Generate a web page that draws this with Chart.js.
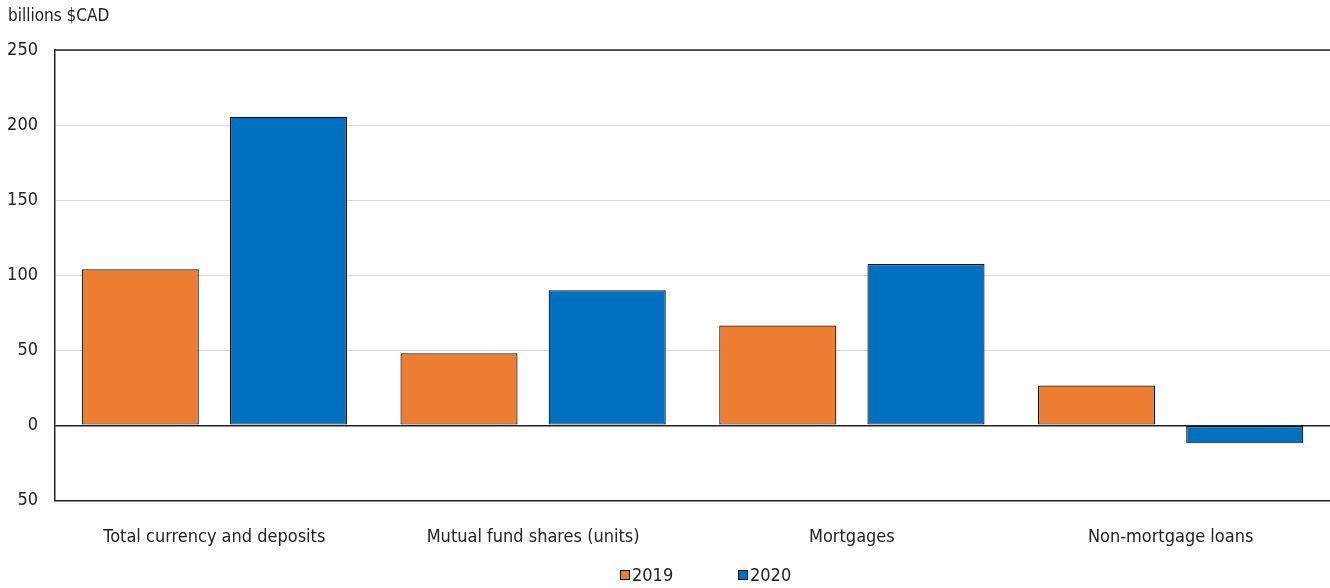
<!DOCTYPE html>
<html>
<head>
<meta charset="utf-8">
<script src="https://cdn.jsdelivr.net/npm/chart.js@4/dist/chart.umd.min.js"></script>
<style>
  html, body { margin: 0; padding: 0; background: #fff; }
  #wrap { width: 1330px; height: 588px; }
</style>
</head>
<body>
<div id="wrap"><canvas id="chart"></canvas></div>
<script>
const categories = ['Total currency and deposits', 'Mutual fund shares (units)', 'Mortgages', 'Non-mortgage loans'];
const values2019 = [104, 48, 66.5, 26.5];
const values2020 = [205.5, 90, 107.5, -12];
const yTickLabels = { '250': '250', '200': '200', '150': '150', '100': '100', '50': '50', '0': '0', '-50': '50' };
const unitLabel = 'billions $CAD';

const FONT = '"Liberation Sans Narrow", "DejaVu Sans Condensed", "Liberation Sans", sans-serif';
const TEXT = '#222';

// unit label, top frame line and a widely spaced legend under the axis
const frame = {
  id: 'frame',
  afterDraw(chart) {
    const { ctx, chartArea } = chart;
    ctx.save();
    ctx.strokeStyle = '#222';
    ctx.lineWidth = 1.5;
    ctx.beginPath();
    ctx.moveTo(chartArea.left, chartArea.top);
    ctx.lineTo(chartArea.right, chartArea.top);
    ctx.stroke();

    ctx.fillStyle = TEXT;
    ctx.font = '17px ' + FONT;
    ctx.textBaseline = 'middle';
    ctx.fillText(unitLabel, 8, 17);

    const y = 576;
    const starts = [620, 738];
    ctx.font = '18px ' + FONT;
    chart.data.datasets.forEach((ds, i) => {
      const x = starts[i];
      ctx.fillStyle = ds.backgroundColor;
      ctx.fillRect(x, y - 6, 10, 10);
      ctx.strokeStyle = '#111';
      ctx.lineWidth = 1;
      ctx.strokeRect(x + 0.5, y - 5.5, 9, 9);
      ctx.fillStyle = TEXT;
      ctx.fillText(ds.label, x + 12, y);
    });
    ctx.restore();
  }
};

new Chart(document.getElementById('chart').getContext('2d'), {
  type: 'bar',
  data: {
    labels: categories,
    datasets: [{
      label: '2019',
      data: values2019,
      backgroundColor: '#ED7D31',
      borderColor: '#111',
      borderWidth: 1.2,
      borderSkipped: false
    }, {
      label: '2020',
      data: values2020,
      backgroundColor: '#0070C0',
      borderColor: '#111',
      borderWidth: 1.2,
      borderSkipped: false
    }]
  },
  options: {
    responsive: true,
    maintainAspectRatio: false,
    animation: false,
    layout: { padding: { top: 50, right: 0, left: 0, bottom: 22 } },
    datasets: {
      bar: { categoryPercentage: 0.93, barPercentage: 0.79 }
    },
    plugins: {
      legend: { display: false },
      tooltip: { enabled: false }
    },
    scales: {
      x: {
        grid: { display: false },
        border: { display: true, color: '#222', width: 1.5 },
        ticks: { color: TEXT, font: { family: FONT, size: 18 }, padding: 18 }
      },
      y: {
        min: -50,
        max: 250,
        afterFit(scale) { scale.width = 55; },
        grid: {
          drawTicks: false,
          color: ctx => ctx.tick && ctx.tick.value === 0 ? '#222' : '#d9d9d9',
          lineWidth: ctx => ctx.tick && ctx.tick.value === 0 ? 1.5 : 1
        },
        border: { display: true, color: '#222', width: 1.5 },
        ticks: {
          stepSize: 50,
          padding: 17,
          color: TEXT,
          font: { family: FONT, size: 18 },
          callback: v => yTickLabels[String(v)]
        }
      }
    }
  },
  plugins: [frame]
});
</script>
</body>
</html>
